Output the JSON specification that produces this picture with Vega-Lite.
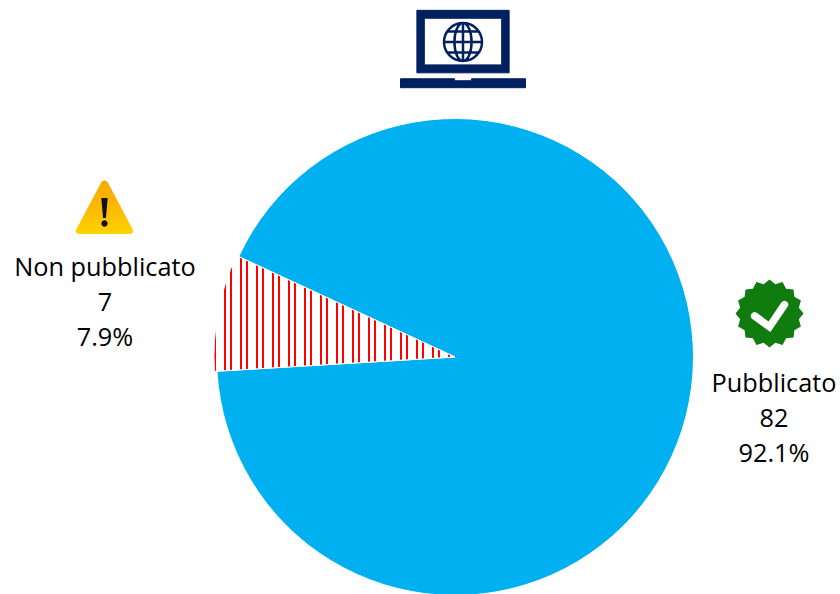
{"$schema":"https://vega.github.io/schema/vega-lite/v6.json","width":840,"height":594,"padding":0,"autosize":{"type":"none"},"background":"#ffffff","config":{"view":{"stroke":null}},"data":{"values":[{"label":"Pubblicato","count":82,"text":"Pubblicato\n82\n92.1%"},{"label":"Non pubblicato","count":7,"text":"Non pubblicato\n7\n7.9%"}]},"layer":[{"mark":{"type":"arc","stroke":"#ffffff","strokeWidth":1},"encoding":{"x":{"datum":455,"type":"quantitative","scale":{"domain":[0,840],"nice":false,"zero":false},"axis":null},"y":{"datum":357,"type":"quantitative","scale":{"domain":[594,0],"nice":false,"zero":false},"axis":null},"theta":{"field":"count","type":"quantitative","stack":true,"scale":{"domain":[0,89],"range":[5.147,11.43]}},"detail":{"field":"label"},"order":{"field":"count","sort":"descending"},"radius":{"field":"count","type":"quantitative","scale":{"type":"linear","domain":[7,82],"range":[241,238.5],"zero":false,"nice":false}},"radius2":{"value":0},"fill":{"condition":{"test":"datum.label==='Non pubblicato'","value":{"gradient":"linear","x1":0,"y1":0,"x2":1,"y2":0,"stops":[{"offset":0,"color":"#ff0000"},{"offset":0.0083,"color":"#ff0000"},{"offset":0.0083,"color":"#ffffff"},{"offset":0.0415,"color":"#ffffff"},{"offset":0.0415,"color":"#ff0000"},{"offset":0.0498,"color":"#ff0000"},{"offset":0.0498,"color":"#ffffff"},{"offset":0.0664,"color":"#ffffff"},{"offset":0.0664,"color":"#ff0000"},{"offset":0.0747,"color":"#ff0000"},{"offset":0.0747,"color":"#ffffff"},{"offset":0.1079,"color":"#ffffff"},{"offset":0.1079,"color":"#ff0000"},{"offset":0.1162,"color":"#ff0000"},{"offset":0.1162,"color":"#ffffff"},{"offset":0.1328,"color":"#ffffff"},{"offset":0.1328,"color":"#ff0000"},{"offset":0.1411,"color":"#ff0000"},{"offset":0.1411,"color":"#ffffff"},{"offset":0.1743,"color":"#ffffff"},{"offset":0.1743,"color":"#ff0000"},{"offset":0.1826,"color":"#ff0000"},{"offset":0.1826,"color":"#ffffff"},{"offset":0.1992,"color":"#ffffff"},{"offset":0.1992,"color":"#ff0000"},{"offset":0.2075,"color":"#ff0000"},{"offset":0.2075,"color":"#ffffff"},{"offset":0.2407,"color":"#ffffff"},{"offset":0.2407,"color":"#ff0000"},{"offset":0.249,"color":"#ff0000"},{"offset":0.249,"color":"#ffffff"},{"offset":0.2656,"color":"#ffffff"},{"offset":0.2656,"color":"#ff0000"},{"offset":0.2739,"color":"#ff0000"},{"offset":0.2739,"color":"#ffffff"},{"offset":0.3071,"color":"#ffffff"},{"offset":0.3071,"color":"#ff0000"},{"offset":0.3154,"color":"#ff0000"},{"offset":0.3154,"color":"#ffffff"},{"offset":0.332,"color":"#ffffff"},{"offset":0.332,"color":"#ff0000"},{"offset":0.3402,"color":"#ff0000"},{"offset":0.3402,"color":"#ffffff"},{"offset":0.3734,"color":"#ffffff"},{"offset":0.3734,"color":"#ff0000"},{"offset":0.3817,"color":"#ff0000"},{"offset":0.3817,"color":"#ffffff"},{"offset":0.3983,"color":"#ffffff"},{"offset":0.3983,"color":"#ff0000"},{"offset":0.4066,"color":"#ff0000"},{"offset":0.4066,"color":"#ffffff"},{"offset":0.4398,"color":"#ffffff"},{"offset":0.4398,"color":"#ff0000"},{"offset":0.4481,"color":"#ff0000"},{"offset":0.4481,"color":"#ffffff"},{"offset":0.4647,"color":"#ffffff"},{"offset":0.4647,"color":"#ff0000"},{"offset":0.473,"color":"#ff0000"},{"offset":0.473,"color":"#ffffff"},{"offset":0.5062,"color":"#ffffff"},{"offset":0.5062,"color":"#ff0000"},{"offset":0.5145,"color":"#ff0000"},{"offset":0.5145,"color":"#ffffff"},{"offset":0.5311,"color":"#ffffff"},{"offset":0.5311,"color":"#ff0000"},{"offset":0.5394,"color":"#ff0000"},{"offset":0.5394,"color":"#ffffff"},{"offset":0.5726,"color":"#ffffff"},{"offset":0.5726,"color":"#ff0000"},{"offset":0.5809,"color":"#ff0000"},{"offset":0.5809,"color":"#ffffff"},{"offset":0.5975,"color":"#ffffff"},{"offset":0.5975,"color":"#ff0000"},{"offset":0.6058,"color":"#ff0000"},{"offset":0.6058,"color":"#ffffff"},{"offset":0.639,"color":"#ffffff"},{"offset":0.639,"color":"#ff0000"},{"offset":0.6473,"color":"#ff0000"},{"offset":0.6473,"color":"#ffffff"},{"offset":0.6639,"color":"#ffffff"},{"offset":0.6639,"color":"#ff0000"},{"offset":0.6722,"color":"#ff0000"},{"offset":0.6722,"color":"#ffffff"},{"offset":0.7054,"color":"#ffffff"},{"offset":0.7054,"color":"#ff0000"},{"offset":0.7137,"color":"#ff0000"},{"offset":0.7137,"color":"#ffffff"},{"offset":0.7303,"color":"#ffffff"},{"offset":0.7303,"color":"#ff0000"},{"offset":0.7386,"color":"#ff0000"},{"offset":0.7386,"color":"#ffffff"},{"offset":0.7718,"color":"#ffffff"},{"offset":0.7718,"color":"#ff0000"},{"offset":0.7801,"color":"#ff0000"},{"offset":0.7801,"color":"#ffffff"},{"offset":0.7967,"color":"#ffffff"},{"offset":0.7967,"color":"#ff0000"},{"offset":0.805,"color":"#ff0000"},{"offset":0.805,"color":"#ffffff"},{"offset":0.8382,"color":"#ffffff"},{"offset":0.8382,"color":"#ff0000"},{"offset":0.8465,"color":"#ff0000"},{"offset":0.8465,"color":"#ffffff"},{"offset":0.8631,"color":"#ffffff"},{"offset":0.8631,"color":"#ff0000"},{"offset":0.8714,"color":"#ff0000"},{"offset":0.8714,"color":"#ffffff"},{"offset":0.9046,"color":"#ffffff"},{"offset":0.9046,"color":"#ff0000"},{"offset":0.9129,"color":"#ff0000"},{"offset":0.9129,"color":"#ffffff"},{"offset":0.9295,"color":"#ffffff"},{"offset":0.9295,"color":"#ff0000"},{"offset":0.9378,"color":"#ff0000"},{"offset":0.9378,"color":"#ffffff"},{"offset":0.971,"color":"#ffffff"},{"offset":0.971,"color":"#ff0000"},{"offset":0.9793,"color":"#ff0000"},{"offset":0.9793,"color":"#ffffff"},{"offset":1,"color":"#ffffff"}]}},"value":"#00b0f0"}}},{"transform":[{"filter":"datum.label==='Pubblicato'"}],"mark":{"type":"text","font":"Open Sans","fontSize":25.3,"lineHeight":35,"lineBreak":"\n","align":"center","baseline":"top","color":"#000000"},"encoding":{"x":{"datum":774,"type":"quantitative"},"y":{"datum":372,"type":"quantitative"},"text":{"field":"text"}}},{"transform":[{"filter":"datum.label==='Non pubblicato'"}],"mark":{"type":"text","font":"Open Sans","fontSize":25.3,"lineHeight":35,"lineBreak":"\n","align":"center","baseline":"top","color":"#000000"},"encoding":{"x":{"datum":105,"type":"quantitative"},"y":{"datum":256,"type":"quantitative"},"text":{"field":"text"}}},{"data":{"values":[{"icon":"laptop"}]},"mark":{"type":"point","filled":true,"opacity":1,"fill":"#002060","stroke":"#002060","strokeWidth":1,"strokeJoin":"round","size":15625,"shape":"M-.738 -.619L.738 -.619L.738 .381L-.738 .381ZM-.619 -.492L-.619 .254L.619 .254L.619 -.492ZM-1 .476L-.135 .476L-.135 .508L.135 .508L.135 .476L1 .476L1 .619L-1 .619Z"},"encoding":{"x":{"datum":463,"type":"quantitative"},"y":{"datum":49,"type":"quantitative"}}},{"data":{"values":[{"icon":"globe"}]},"mark":{"type":"point","filled":false,"opacity":1,"fill":null,"stroke":"#002060","strokeWidth":2.5,"size":1444,"shape":"M-1 0A1 1 0 1 1 1 0A1 1 0 1 1 -1 0ZM0 -1A.45 1 0 1 1 0 1A.45 1 0 1 1 0 -1ZM0 -1L0 1M-1 0L1 0M-.8 -.55L.8 -.55M-.8 .55L.8 .55"},"encoding":{"x":{"datum":463,"type":"quantitative"},"y":{"datum":42,"type":"quantitative"}}},{"data":{"values":[{"icon":"warning"}]},"mark":{"type":"point","filled":true,"opacity":1,"stroke":null,"size":3364,"shape":"M0 -.93Q.08 -.93 .12 -.85L.97 .75Q1.03 .91 .88 .91L-.88 .91Q-1.03 .91 -.97 .75L-.12 -.85Q-.08 -.93 0 -.93Z","fill":{"gradient":"linear","x1":0,"y1":0,"x2":0,"y2":1,"stops":[{"offset":0,"color":"#f8a800"},{"offset":0.6,"color":"#fdbd00"},{"offset":1,"color":"#ffd400"}]}},"encoding":{"x":{"datum":104.5,"type":"quantitative"},"y":{"datum":207.5,"type":"quantitative"}}},{"data":{"values":[{"icon":"warning-mark"}]},"mark":{"type":"point","filled":true,"opacity":1,"fill":"#111111","stroke":null,"size":3364,"shape":"M-.11 -.33L.11 -.33L.05 .36L-.05 .36ZM0 .44A.11 .11 0 1 1 0 .66A.11 .11 0 1 1 0 .44Z"},"encoding":{"x":{"datum":104.5,"type":"quantitative"},"y":{"datum":207.5,"type":"quantitative"}}},{"data":{"values":[{"icon":"badge"}]},"mark":{"type":"point","filled":true,"opacity":1,"fill":"#107c10","stroke":null,"size":4624,"shape":"M1 0L.863 .172L.924 .383L.731 .489L.707 .707L.489 .731L.383 .924L.172 .863L0 1L-.172 .863L-.383 .924L-.489 .731L-.707 .707L-.731 .489L-.924 .383L-.863 .172L-1 0L-.863 -.172L-.924 -.383L-.731 -.489L-.707 -.707L-.489 -.731L-.383 -.924L-.172 -.863L0 -1L.172 -.863L.383 -.924L.489 -.731L.707 -.707L.731 -.489L.924 -.383L.863 -.172Z"},"encoding":{"x":{"datum":769.5,"type":"quantitative"},"y":{"datum":313.5,"type":"quantitative"}}},{"data":{"values":[{"icon":"check"}]},"mark":{"type":"point","filled":false,"opacity":1,"fill":null,"stroke":"#ffffff","strokeWidth":7.5,"strokeCap":"round","size":4624,"shape":"M-.44 .07L0 .39L.44 -.26"},"encoding":{"x":{"datum":769.5,"type":"quantitative"},"y":{"datum":313.5,"type":"quantitative"}}}]}
